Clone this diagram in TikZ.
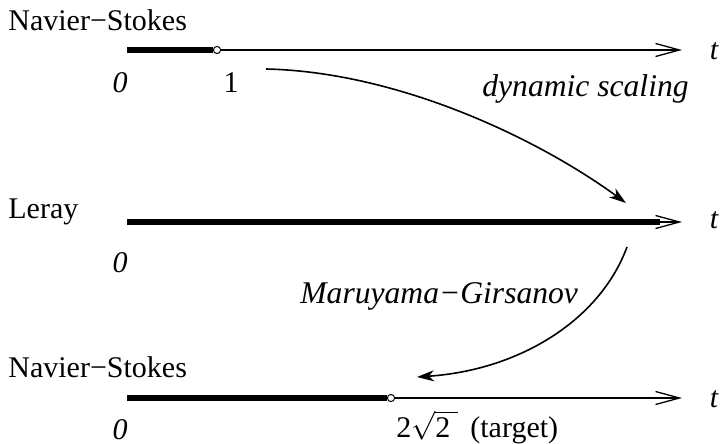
\documentclass[tikz,border=0pt]{standalone}
\usepackage{fontspec}
\setmainfont{Liberation Serif}
\usetikzlibrary{arrows.meta}
\tikzset{
  axisthin/.style={line width=0.65pt, -{Straight Barb[length=12pt, width=6.5pt]}},
  axisthick/.style={line width=2.7pt},
  opendot/.style={circle, draw, fill=white, line width=0.5pt, inner sep=0pt,
                  minimum size=3.6pt},
  maparrow/.style={-{Stealth[length=8.5pt, width=5.5pt, inset=2.5pt]}, line width=0.8pt},
  lbl/.style={font=\fontsize{15}{18}\selectfont, inner sep=0pt},
  lblit/.style={lbl, font=\fontsize{15}{18}\selectfont\itshape},
  maplbl/.style={lbl, font=\fontsize{15.8}{19}\selectfont\itshape},
}

\begin{document}
\begin{tikzpicture}[x=0.5pt, y=-0.5pt]

\useasboundingbox (0,0) rectangle (728,444);

%% ============================================================
%%  ROWS  (y of each time axis)
%% ============================================================
\def\yTop{50}
\def\yMid{222}
\def\yBot{398}
\def\xStart{127}
\def\xEnd{682}

%% ============================================================
%%  ROW 1 -- Navier-Stokes up to t = 1
%% ============================================================
\coordinate (ns0)   at (\xStart, \yTop);
\coordinate (nsEnd) at (\xEnd, \yTop);
\node[opendot] (nsOne) at (217, \yTop) {};
\draw[axisthick] (ns0) -- (nsOne.west);
\draw[axisthin]  (nsOne.east) -- (nsEnd);

\node[lbl, anchor=base west] (nsName) at (8, 31) {Navier−Stokes};
\node[lblit, anchor=base] (nsZero) at (120, 93) {0};
\node[lbl, anchor=base] (nsOneLbl) at (231, 93) {1};
\node[lblit, anchor=base] (nsT) at (714, 60) {t};

%% ============================================================
%%  ROW 2 -- Leray, global
%% ============================================================
\coordinate (le0)   at (\xStart, \yMid);
\coordinate (leMid) at (660, \yMid);
\coordinate (leEnd) at (\xEnd, \yMid);
\draw[axisthick] (le0) -- (leMid);
\draw[axisthin]  (le0) -- (leEnd);

\node[lbl, anchor=base west] (leName) at (8, 218) {Leray};
\node[lblit, anchor=base] (leZero) at (120, 272) {0};
\node[lblit, anchor=base] (leT) at (714, 228) {t};

%% ============================================================
%%  ROW 3 -- Navier-Stokes up to the target time
%% ============================================================
\coordinate (tg0)   at (\xStart, \yBot);
\coordinate (tgEnd) at (\xEnd, \yBot);
\node[opendot] (tgDot) at (391, \yBot) {};
\draw[axisthick] (tg0) -- (tgDot.west);
\draw[axisthin]  (tgDot.east) -- (tgEnd);

\node[lbl, anchor=base west] (tgName) at (8, 377) {Navier−Stokes};
\node[lblit, anchor=base] (tgZero) at (120, 439) {0};
\node[lbl, anchor=base west] (tgLbl) at (396, 437)
  {2$\sqrt{\mbox{2}\;}$\hspace{6pt}(target)};
\node[lblit, anchor=base] (tgT) at (714, 407) {t};

%% ============================================================
%%  Maps between the rows
%% ============================================================
\coordinate (dsFrom) at (266, 69);
\coordinate (dsTo)   at (626, 203);
\draw[maparrow] (dsFrom) .. controls (400,72) and (540,140) .. (dsTo);
\node[maplbl, anchor=base west] (dsLbl) at (482, 97) {dynamic scaling};

\coordinate (mgFrom) at (627, 247);
\coordinate (mgTo)   at (417, 377);
\draw[maparrow] (mgFrom) .. controls (600,320) and (520,370) .. (mgTo);
\node[maplbl, anchor=base west] (mgLbl) at (300, 303) {Maruyama−Girsanov};

\end{tikzpicture}
\end{document}
